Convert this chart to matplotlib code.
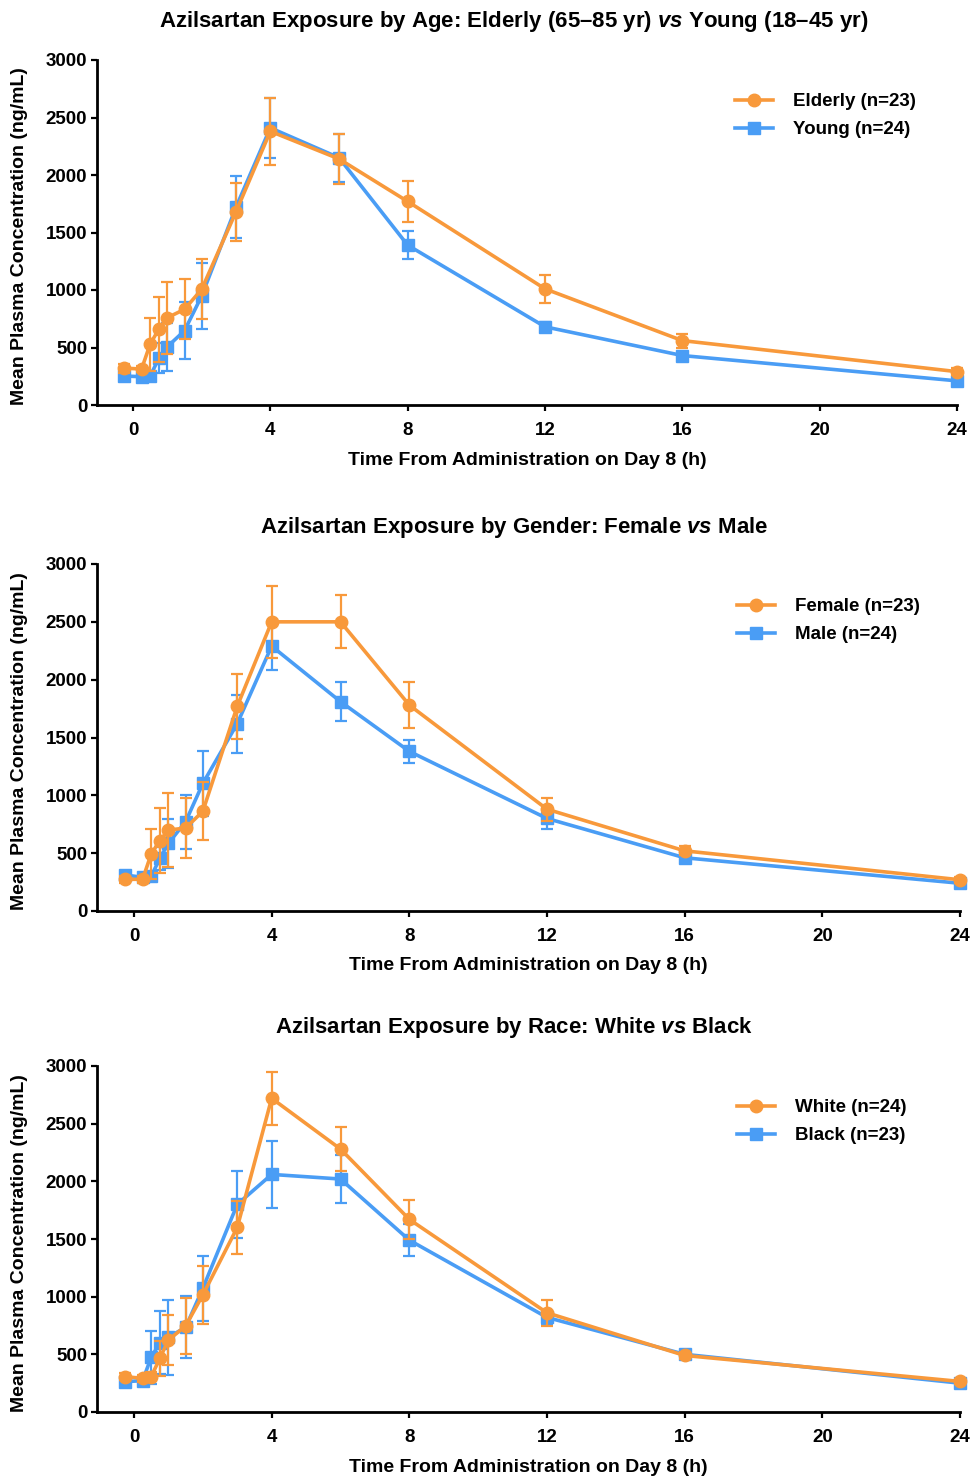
import matplotlib
matplotlib.use("Agg")
import matplotlib.pyplot as plt
import numpy as np

plt.rcParams['font.family'] = ['Liberation Sans', 'DejaVu Sans']
plt.rcParams['font.weight'] = 'bold'
plt.rcParams['mathtext.fontset'] = 'custom'
plt.rcParams['mathtext.it'] = 'Liberation Sans:italic:bold'
plt.rcParams['mathtext.rm'] = 'Liberation Sans:bold'

time_h = [-0.25, 0.25, 0.5, 0.75, 1, 1.5, 2, 3, 4, 6, 8, 12, 16, 24]

# Panel 1: Age
elderly_mean = [320, 313, 530, 658, 759, 832, 1006, 1680, 2380, 2140, 1770, 1010, 560, 290]
elderly_sd   = [40, 30, 230, 280, 313, 260, 260, 250, 290, 220, 180, 120, 60, 30]
young_mean   = [252, 246, 250, 406, 507, 646, 948, 1720, 2410, 2150, 1390, 680, 430, 210]
young_sd     = [30, 25, 40, 130, 210, 246, 285, 270, 260, 210, 120, 40, 30, 20]

# Panel 2: Gender
female_mean = [274, 274, 493, 608, 700, 717, 862, 1770, 2500, 2500, 1780, 880, 520, 270]
female_sd   = [30, 30, 216, 280, 317, 257, 250, 280, 310, 230, 200, 100, 40, 25]
male_mean   = [311, 291, 300, 455, 585, 772, 1103, 1620, 2290, 1810, 1380, 800, 460, 240]
male_sd     = [30, 30, 40, 100, 210, 235, 280, 250, 210, 170, 100, 90, 30, 20]

# Panel 3: Race
white_mean = [306, 292, 306, 466, 624, 746, 1015, 1600, 2720, 2280, 1670, 860, 490, 265]
white_sd   = [30, 30, 40, 150, 217, 245, 250, 230, 230, 190, 170, 110, 30, 25]
black_mean = [263, 272, 474, 601, 648, 734, 1072, 1800, 2060, 2020, 1490, 820, 500, 250]
black_sd   = [30, 30, 230, 275, 323, 270, 280, 290, 290, 210, 140, 60, 30, 20]

titles = [
    r"Azilsartan Exposure by Age: Elderly (65–85 yr) $\mathit{vs}$ Young (18–45 yr)",
    r"Azilsartan Exposure by Gender: Female $\mathit{vs}$ Male",
    r"Azilsartan Exposure by Race: White $\mathit{vs}$ Black",
]
orange_labels = ["Elderly (n=23)", "Female (n=23)", "White (n=24)"]
blue_labels = ["Young (n=24)", "Male (n=24)", "Black (n=23)"]
orange_data = [(elderly_mean, elderly_sd), (female_mean, female_sd), (white_mean, white_sd)]
blue_data = [(young_mean, young_sd), (male_mean, male_sd), (black_mean, black_sd)]

xticks = [0, 4, 8, 12, 16, 20, 24]
yticks = [0, 500, 1000, 1500, 2000, 2500, 3000]

ORANGE = '#F8993B'
BLUE = '#4A9DF5'

W, H = 971, 1477
fig = plt.figure(figsize=(W / 100, H / 100), dpi=100)

# layout in pixels: (top, bottom, right, x0px, title_y, xlabel_y, legend_x, legend_row1_y)
panels = [
    (60, 405, 957, 133, 22, 460, 735, 100),
    (564, 911, 960, 134, 527, 966, 737, 605),
    (1066, 1412, 960, 134, 1028, 1467, 737, 1106),
]
left_px = 97

for i, (top, bot, right_px, x0px, ty, xly, lgx, lgy) in enumerate(panels):
    ax = fig.add_axes([left_px / W, 1 - bot / H, (right_px - left_px) / W, (bot - top) / H])
    bm, bs = blue_data[i]
    om, os_ = orange_data[i]
    hb = ax.errorbar(time_h, bm, yerr=bs, color=BLUE, marker='s', markersize=8.5,
                     linewidth=2.6, elinewidth=1.6, capsize=4, capthick=1.6,
                     label=blue_labels[i], zorder=3, clip_on=False)
    ho = ax.errorbar(time_h, om, yerr=os_, color=ORANGE, marker='o', markersize=9,
                     linewidth=2.6, elinewidth=1.6, capsize=4, capthick=1.6,
                     label=orange_labels[i], zorder=4, clip_on=False)
    ppu = (right_px - x0px) / 24.0
    ax.set_xlim(-(x0px - left_px) / ppu, 24)
    ax.set_ylim(0, 3000)
    ax.set_xticks(xticks)
    ax.set_yticks(yticks)
    ax.spines['top'].set_visible(False)
    ax.spines['right'].set_visible(False)
    ax.spines['left'].set_linewidth(2)
    ax.spines['bottom'].set_linewidth(2)
    ax.tick_params(axis='both', width=1.6, length=4, labelsize=13.5, direction='out', pad=3)
    ax.tick_params(axis='x', pad=8)
    for lab in ax.get_xticklabels() + ax.get_yticklabels():
        lab.set_fontweight('bold')
    fig.text(((left_px + right_px) / 2) / W, 1 - xly / H,
             "Time From Administration on Day 8 (h)", fontsize=14,
             fontweight='bold', ha='center', va='center')
    fig.text(20 / W, 1 - ((top + bot) / 2 + 4) / H,
             "Mean Plasma Concentration (ng/mL)", fontsize=14,
             fontweight='bold', ha='center', va='center', rotation=90)
    fig.text(514 / W, 1 - ty / H, titles[i], fontsize=16, fontweight='bold',
             ha='center', va='center')
    handles = [ho[0], hb[0]]
    leg = ax.legend(handles, [orange_labels[i], blue_labels[i]], loc='upper left',
                    bbox_to_anchor=(lgx / W, 1 - (lgy - 7) / H),
                    bbox_transform=fig.transFigure, borderaxespad=0, borderpad=0,
                    frameon=False, fontsize=13.5, handlelength=2.0,
                    handletextpad=1.1, labelspacing=0.58)
    for t in leg.get_texts():
        t.set_fontweight('bold')

fig.savefig("out.png", dpi=100)
